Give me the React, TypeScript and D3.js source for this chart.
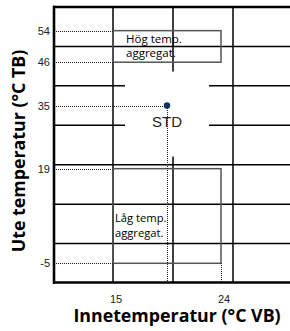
import React from "react";
import * as d3 from "d3";

const W = 290;
const H = 331;

// data
const yTicks = [54, 46, 35, 19, -5];
const xTicks = [15, 24];
const xGrid = [15, 20, 25];
const yGrid = [50, 40, 30, 20, 10, 0];
const stdPoint = { x: 19.5, y: 35, label: "STD" };
const highBox = { x0: 15, x1: 24, y0: 46, y1: 54, lines: ["Hög temp.", "aggregat."] };
const lowBox = { x0: 15, x1: 24, y0: -5, y1: 19, lines: ["Låg temp.", "aggregat."] };
const xTitle = "Innetemperatur (°C VB)";
const yTitle = "Ute temperatur (°C TB)";

const px = (v: number) => Math.round(v) + 0.5;

export default function App() {
  const x = d3.scaleLinear().domain([10, 30]).range([53, 293]);
  const y = d3.scaleLinear().domain([-10, 60]).range([283, 7]);
  const left = x(10) + 1;
  const top = y(60);
  const bottom = y(-10) - 0.5;
  const right = W;
  const tickFont = "Liberation Sans, Arial, sans-serif";
  const boxFont = "'Open Sans', 'Noto Sans', sans-serif";
  const dotted = { stroke: "#222", strokeWidth: 1, strokeDasharray: "1,1", shapeRendering: "crispEdges" as const };
  const sx = x(stdPoint.x);
  const sy = y(stdPoint.y);

  return (
    <svg width={W} height={H} style={{ position: "absolute", left: 0, top: 0, background: "#fff" }}>
      <rect x={0} y={0} width={W} height={H} fill="#fff" />
      {/* grid */}
      {xGrid.map((v) => (
        <line key={"gx" + v} x1={x(v)} x2={x(v)} y1={top} y2={bottom} stroke="#000" strokeWidth={1.5} />
      ))}
      {yGrid.map((v) => (
        <line key={"gy" + v} x1={left} x2={right} y1={y(v)} y2={y(v)} stroke="#000" strokeWidth={1.5} />
      ))}
      {/* white area behind STD */}
      <rect x={sx - 42} y={sy - 34} width={84} height={85} fill="#fff" />
      {/* boxes */}
      {[highBox, lowBox].map((b, i) => (
        <rect
          key={"b" + i}
          x={x(b.x0)}
          y={y(b.y1)}
          width={x(b.x1) - x(b.x0)}
          height={y(b.y0) - y(b.y1)}
          fill="none"
          stroke="#555"
          strokeWidth={1.5}
        />
      ))}
      {/* dotted reference lines */}
      {yTicks.map((v) => (
        <line
          key={"dy" + v}
          x1={left + 2}
          x2={v === stdPoint.y ? sx : x(highBox.x0)}
          y1={px(y(v))}
          y2={px(y(v))}
          {...dotted}
        />
      ))}
      <line x1={px(sx)} x2={px(sx)} y1={sy} y2={bottom} {...dotted} />
      <line x1={px(x(lowBox.x1))} x2={px(x(lowBox.x1))} y1={y(lowBox.y0)} y2={bottom} {...dotted} />
      {/* box texts */}
      {highBox.lines.map((t, i) => (
        <text key={"ht" + i} x={x(highBox.x0) + 13} y={y(highBox.y1) + 12.5 + i * 14} fontFamily={boxFont} fontSize={11.5} fill="#000">
          {t}
        </text>
      ))}
      {lowBox.lines.map((t, i) => (
        <text key={"lt" + i} x={x(lowBox.x0) + 2} y={y(lowBox.y1) + 53.5 + i * 14.5} fontFamily={boxFont} fontSize={11.2} fill="#000">
          {t}
        </text>
      ))}
      {/* STD */}
      <circle cx={sx} cy={sy} r={3.2} fill="#10325e" />
      <text x={sx} y={sy + 21} textAnchor="middle" fontFamily={tickFont} fontSize={15} fill="#222">
        {stdPoint.label}
      </text>
      {/* frame */}
      <line x1={left - 1} x2={right} y1={top} y2={top} stroke="#000" strokeWidth={2.6} />
      <line x1={left} x2={left} y1={top - 1.3} y2={bottom + 1.3} stroke="#000" strokeWidth={2.6} />
      <line x1={left - 1} x2={right} y1={bottom} y2={bottom} stroke="#000" strokeWidth={2.6} />
      {/* tick labels */}
      {yTicks.map((v) => (
        <text key={"yt" + v} x={50} y={y(v) + 4} textAnchor="end" fontFamily={tickFont} fontSize={11} fill="#222">
          {v}
        </text>
      ))}
      {xTicks.map((v) => (
        <text key={"xt" + v} x={x(v) + 3} y={302.5} textAnchor="middle" fontFamily={tickFont} fontSize={11} fill="#222">
          {v}
        </text>
      ))}
      {/* titles */}
      <text x={177} y={322} textAnchor="middle" fontFamily={boxFont} fontWeight="bold" fontSize={17.8} fill="#000">
        {xTitle}
      </text>
      <text
        transform={`translate(24.5, ${(40 + 262) / 2}) rotate(-90)`}
        textAnchor="middle"
        fontFamily={boxFont}
        fontWeight="bold"
        fontSize={17.8}
        fill="#000"
      >
        {yTitle}
      </text>
    </svg>
  );
}
